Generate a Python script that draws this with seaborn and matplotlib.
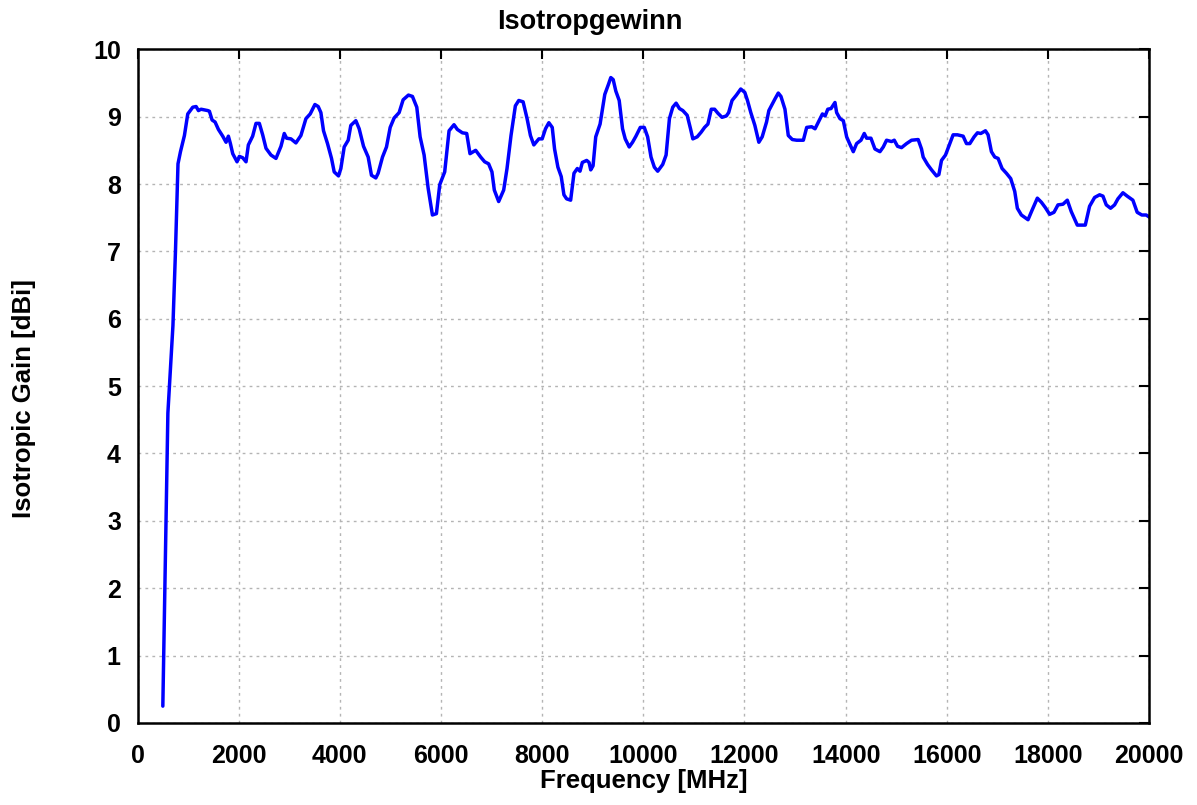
import pandas as pd
import seaborn as sns
import matplotlib.pyplot as plt

# frequency [MHz] and isotropic gain [dBi]
freq = [
    500, 600, 700, 750, 800, 849, 927, 993, 1092, 1158, 1204, 1256, 1388, 1421, 1474,
    1533, 1599, 1684, 1750, 1796, 1836, 1882, 1967, 2013, 2079, 2145, 2191, 2276, 2342,
    2408, 2474, 2540, 2638, 2737, 2836, 2901, 2947, 3033, 3131, 3230, 3329, 3414, 3507,
    3572, 3625, 3677, 3756, 3835, 3888, 3973, 4020, 4086, 4165, 4217, 4316, 4382, 4468,
    4560, 4625, 4711, 4757, 4843, 4922, 4995, 5073, 5172, 5251, 5356, 5435, 5521, 5587,
    5666, 5745, 5830, 5909, 5975, 6073, 6159, 6257, 6323, 6422, 6508, 6573, 6685, 6784,
    6863, 6941, 7007, 7054, 7140, 7239, 7305, 7384, 7470, 7537, 7623, 7702, 7768, 7835,
    7934, 8000, 8066, 8132, 8199, 8245, 8311, 8377, 8430, 8483, 8563, 8629, 8695, 8748,
    8794, 8880, 8927, 8960, 9006, 9059, 9145, 9238, 9311, 9357, 9404, 9456, 9523, 9589,
    9642, 9721, 9787, 9854, 9940, 10019, 10085, 10152, 10218, 10284, 10383, 10450, 10516,
    10582, 10648, 10714, 10781, 10867, 10933, 10979, 11065, 11144, 11211, 11277, 11343,
    11409, 11475, 11555, 11641, 11687, 11754, 11840, 11926, 12006, 12059, 12125, 12205,
    12284, 12350, 12436, 12482, 12601, 12668, 12721, 12800, 12866, 12946, 13032, 13164,
    13230, 13329, 13395, 13475, 13541, 13594, 13647, 13711, 13789, 13822, 13888, 13954,
    14020, 14066, 14151, 14217, 14303, 14368, 14415, 14500, 14579, 14678, 14744, 14809,
    14908, 14961, 15026, 15105, 15204, 15303, 15434, 15500, 15533, 15619, 15698, 15796,
    15843, 15895, 15974, 16040, 16125, 16211, 16323, 16389, 16455, 16540, 16606, 16672,
    16764, 16816, 16882, 16948, 17014, 17093, 17178, 17264, 17343, 17395, 17474, 17606,
    17685, 17790, 17869, 17948, 18033, 18119, 18198, 18297, 18382, 18461, 18580, 18738,
    18823, 18922, 19021, 19087, 19153, 19238, 19317, 19383, 19482, 19567, 19679, 19764,
    19856, 19942, 20021,
]
gain = [
    0.25, 4.6, 5.9, 7.0, 8.3, 8.48, 8.72, 9.04, 9.14, 9.15, 9.09, 9.11, 9.09, 9.08, 8.95,
    8.92, 8.81, 8.71, 8.62, 8.71, 8.60, 8.45, 8.33, 8.41, 8.39, 8.33, 8.58, 8.71, 8.90,
    8.90, 8.73, 8.53, 8.43, 8.38, 8.56, 8.75, 8.68, 8.67, 8.61, 8.72, 8.97, 9.04, 9.18,
    9.15, 9.06, 8.79, 8.60, 8.38, 8.18, 8.12, 8.23, 8.55, 8.65, 8.87, 8.94, 8.82, 8.56,
    8.40, 8.13, 8.09, 8.16, 8.40, 8.55, 8.84, 8.98, 9.06, 9.25, 9.32, 9.30, 9.14, 8.70,
    8.43, 7.94, 7.54, 7.56, 7.99, 8.18, 8.79, 8.88, 8.81, 8.76, 8.75, 8.45, 8.50, 8.40,
    8.33, 8.30, 8.18, 7.91, 7.74, 7.91, 8.23, 8.72, 9.16, 9.24, 9.22, 8.97, 8.72, 8.58,
    8.67, 8.67, 8.82, 8.91, 8.84, 8.52, 8.25, 8.11, 7.84, 7.78, 7.76, 8.16, 8.23, 8.19,
    8.32, 8.35, 8.32, 8.21, 8.27, 8.70, 8.89, 9.33, 9.48, 9.58, 9.55, 9.38, 9.24, 8.82,
    8.67, 8.55, 8.62, 8.71, 8.84, 8.84, 8.70, 8.40, 8.25, 8.19, 8.29, 8.43, 8.97,
    9.14, 9.20, 9.12, 9.09, 9.02, 8.82, 8.67, 8.70, 8.77, 8.84, 8.89, 9.11,
    9.11, 9.05, 8.99, 9.01, 9.06, 9.24, 9.32, 9.41, 9.36, 9.24, 9.06, 8.87,
    8.62, 8.70, 8.92, 9.09, 9.26, 9.35, 9.30, 9.11, 8.72, 8.66, 8.65, 8.65,
    8.84, 8.85, 8.82, 8.94, 9.04, 9.01, 9.11, 9.12, 9.21, 9.06, 8.97, 8.94,
    8.70, 8.62, 8.48, 8.60, 8.65, 8.75, 8.68, 8.68, 8.52, 8.48, 8.55, 8.65,
    8.63, 8.65, 8.56, 8.54, 8.60, 8.65, 8.66, 8.52, 8.40, 8.29, 8.21, 8.12,
    8.14, 8.35, 8.43, 8.56, 8.73, 8.73, 8.71, 8.60, 8.60, 8.70, 8.76, 8.75,
    8.79, 8.73, 8.48, 8.40, 8.38, 8.23, 8.16, 8.08, 7.89, 7.64, 7.54, 7.47,
    7.61, 7.79, 7.73, 7.65, 7.55, 7.58, 7.69, 7.70, 7.76, 7.59, 7.39, 7.39,
    7.67, 7.80, 7.84, 7.82, 7.69, 7.64, 7.69, 7.78, 7.87, 7.82, 7.76, 7.58,
    7.54, 7.54, 7.50,
]
x_ticks = list(range(0, 20001, 2000))
y_ticks = list(range(0, 11))

sns.set_style("white")
plt.rcParams["font.family"] = ["Liberation Sans", "DejaVu Sans"]
plt.rcParams["font.weight"] = "bold"
plt.rcParams["text.color"] = "black"
plt.rcParams["axes.labelcolor"] = "black"
plt.rcParams["xtick.color"] = "black"
plt.rcParams["ytick.color"] = "black"

df = pd.DataFrame({"freq": freq, "gain": gain})

fig = plt.figure(figsize=(11.97, 8.05), dpi=100)
ax = fig.add_axes([0.1149, 0.1019, 0.8451, 0.8369])
sns.lineplot(data=df, x="freq", y="gain", color="#0000ff", linewidth=2.5, ax=ax)

ax.set_xlim(0, 20000)
ax.set_ylim(0, 10)
ax.set_xticks(x_ticks)
ax.set_yticks(y_ticks)
ax.grid(True, linestyle=(0, (2, 3)), color="#b4b4b4", linewidth=1.0)
ax.tick_params(direction="in", top=True, right=True, length=7, width=1.5,
               labelsize=18, labelcolor="black")
ax.tick_params(axis="x", pad=15.5)
ax.tick_params(axis="y", pad=12)
for s in ax.spines.values():
    s.set_color("black")
    s.set_linewidth(1.8)

# gnuplot-style: title centred on the canvas, not the axes
fig.text(0.493, 1 - 22 / 805, "Isotropgewinn", fontsize=19.5, fontweight="bold",
         ha="center", va="center")
ax.set_xlabel("Frequency [MHz]", fontsize=18.5, fontweight="bold", va="center")
ax.xaxis.set_label_coords(0.5, -0.086)
ax.set_ylabel("Isotropic Gain [dBi]", fontsize=18.5, fontweight="bold", va="center")
ax.yaxis.set_label_coords(-0.112, 0.482)

fig.savefig("out.png", dpi=100)
